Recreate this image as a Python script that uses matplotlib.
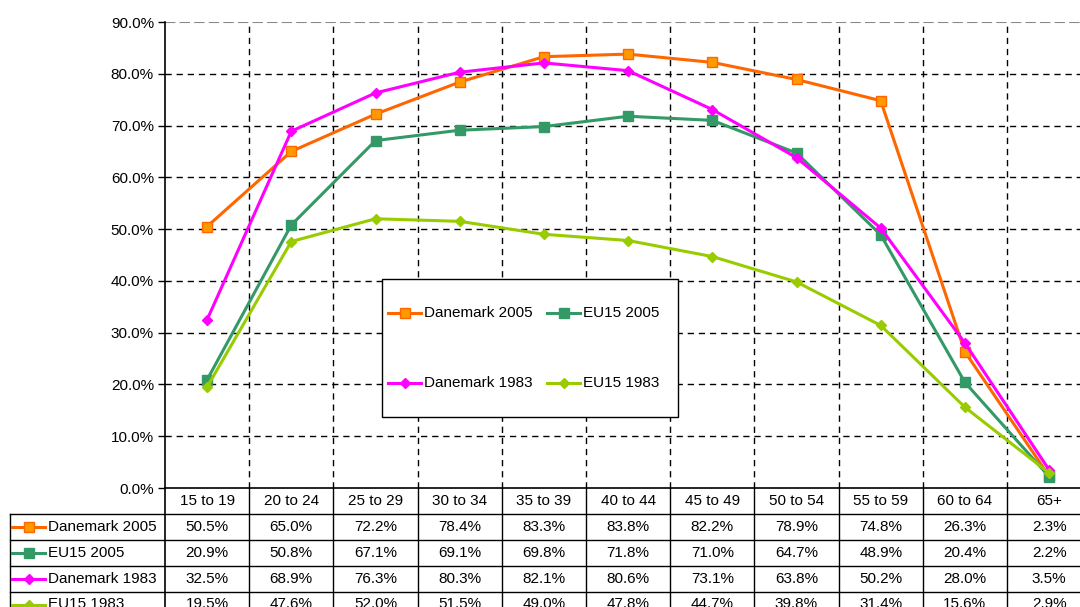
import matplotlib
matplotlib.use("Agg")
import matplotlib.pyplot as plt
from matplotlib.lines import Line2D
from matplotlib.patches import Rectangle
from matplotlib.transforms import blended_transform_factory

plt.rcParams['font.family'] = ['Liberation Sans', 'DejaVu Sans']

categories = ["15 to 19", "20 to 24", "25 to 29", "30 to 34", "35 to 39", "40 to 44",
              "45 to 49", "50 to 54", "55 to 59", "60 to 64", "65+"]
series_names = ["Danemark 2005", "EU15 2005", "Danemark 1983", "EU15 1983"]
danemark_2005 = [50.5, 65.0, 72.2, 78.4, 83.3, 83.8, 82.2, 78.9, 74.8, 26.3, 2.3]
eu15_2005 = [20.9, 50.8, 67.1, 69.1, 69.8, 71.8, 71.0, 64.7, 48.9, 20.4, 2.2]
danemark_1983 = [32.5, 68.9, 76.3, 80.3, 82.1, 80.6, 73.1, 63.8, 50.2, 28.0, 3.5]
eu15_1983 = [19.5, 47.6, 52.0, 51.5, 49.0, 47.8, 44.7, 39.8, 31.4, 15.6, 2.9]
y_ticks = [0, 10, 20, 30, 40, 50, 60, 70, 80, 90]

series_values = [danemark_2005, eu15_2005, danemark_1983, eu15_1983]
styles = [
    dict(color="#FF6600", marker="s", markerfacecolor="#FF9900", markeredgecolor="#FF6600", markersize=6.8),
    dict(color="#339966", marker="s", markerfacecolor="#339966", markeredgecolor="#339966", markersize=6.8),
    dict(color="#FF00FF", marker="D", markerfacecolor="#FF00FF", markeredgecolor="#FF00FF", markersize=5.5),
    dict(color="#99CC00", marker="D", markerfacecolor="#99CC00", markeredgecolor="#99CC00", markersize=5.5),
]

W, H = 1080, 607
fig = plt.figure(figsize=(W / 100, H / 100), dpi=100)
fig.patch.set_facecolor("white")

def fx(px):
    return px / W

def fy(py):
    return 1 - py / H

FS = 11
left_px, right_px, top_px, bot_px = 165, 165 + 11 * 84.2, 22, 488
ax = fig.add_axes([fx(left_px), fy(bot_px), fx(right_px - left_px), (bot_px - top_px) / H])
ax.set_xlim(0, len(categories))
ax.set_ylim(0, 90)
ax.set_facecolor("none")
for s in ["top", "right", "bottom"]:
    ax.spines[s].set_visible(False)
ax.spines["left"].set_linewidth(1.2)
ax.set_yticks(y_ticks)
ax.set_yticklabels([f"{v:.1f}%" for v in y_ticks], fontsize=FS)
ax.tick_params(axis="y", direction="out", length=5, width=1, pad=3)
ax.set_xticks([])

# gridlines
for v in y_ticks[1:-1]:
    ax.axhline(v, color="black", lw=1, ls=(0, (4.5, 3.5)), zorder=1)
ax.axhline(90, color="#888888", lw=1.5, ls=(0, (5, 2)), zorder=1)
for i in range(1, len(categories)):
    ax.axvline(i, color="black", lw=1, ls=(0, (4.5, 3.5)), zorder=1)

xs = [i + 0.5 for i in range(len(categories))]
for name, vals, st in zip(series_names, series_values, styles):
    ax.plot(xs, vals, lw=2.2, zorder=3, clip_on=False, label=name, **st)

# legend box (manual)
lx0, lx1, ly0, ly1 = 382, 678, 279, 417
fig.add_artist(Rectangle((fx(lx0), fy(ly1)), fx(lx1 - lx0), (ly1 - ly0) / H,
                         transform=fig.transFigure, facecolor="white", edgecolor="black",
                         lw=1, zorder=5))
leg_pos = [(388, 313), (547, 313), (388, 383), (547, 383)]
for (px, py), name, st in zip(leg_pos, series_names, styles):
    fig.add_artist(Line2D([fx(px), fx(px + 33)], [fy(py), fy(py)], transform=fig.transFigure,
                          lw=2.2, zorder=6, **{k: v for k, v in st.items() if k != "marker"}))
    fig.add_artist(Line2D([fx(px + 16.5)], [fy(py)], transform=fig.transFigure, lw=0,
                          zorder=7, **st))
    fig.text(fx(px + 36), fy(py), name, fontsize=FS, va="center", ha="left", zorder=7)

# data table
trans = blended_transform_factory(ax.transData, fig.transFigure)
row_lines = [488, 513.5, 539.5, 565.5, 591.5]
table_x0 = 10
fig.add_artist(Line2D([fx(left_px), 1.05], [fy(488), fy(488)], transform=fig.transFigure, color="black", lw=1.2))
for y in row_lines[1:]:
    fig.add_artist(Line2D([fx(table_x0), 1.05], [fy(y), fy(y)], transform=fig.transFigure, color="black", lw=1))
fig.add_artist(Line2D([fx(table_x0), fx(table_x0)], [fy(513.5), 0], transform=fig.transFigure, color="black", lw=1))
fig.add_artist(Line2D([fx(left_px), fx(left_px)], [fy(488), 0], transform=fig.transFigure, color="black", lw=1.2))
for i in range(1, len(categories)):
    fig.add_artist(Line2D([i, i], [fy(488), 0], transform=trans, color="black", lw=1))

row_centers = [501, 527, 553, 579, 604.5]
for x, c in zip(xs, categories):
    fig.text(x, fy(row_centers[0]), c, transform=trans, fontsize=FS, ha="center", va="center")
for r, (name, vals, st) in enumerate(zip(series_names, series_values, styles)):
    yc = fy(row_centers[r + 1])
    for x, v in zip(xs, vals):
        fig.text(x, yc, f"{v:.1f}%", transform=trans, fontsize=FS, ha="center", va="center")
    fig.add_artist(Line2D([fx(12), fx(45)], [yc, yc], transform=fig.transFigure, lw=2.2,
                          **{k: v for k, v in st.items() if k != "marker"}))
    fig.add_artist(Line2D([fx(28.5)], [yc], transform=fig.transFigure, lw=0, **st))
    fig.text(fx(48), yc, name, fontsize=FS, ha="left", va="center")

fig.savefig("out.png", dpi=100)
